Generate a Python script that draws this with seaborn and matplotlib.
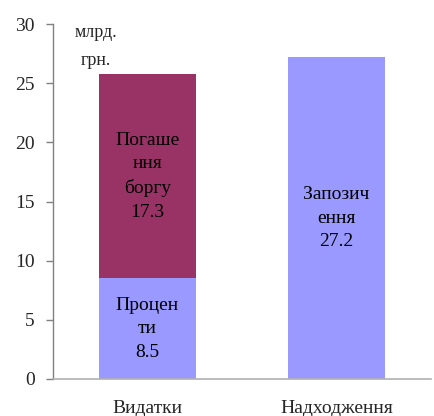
import matplotlib
matplotlib.use("Agg")
import pandas as pd
import seaborn as sns
from matplotlib import pyplot as plt

# Дані (млрд. грн.)
categories = ["Видатки", "Надходження"]
bottom_names = ["Проценти", "Запозичення"]
bottom_values = [8.5, 27.2]
top_names = ["Погашення боргу", ""]
top_values = [17.3, 0.0]
# як розбито підписи всередині стовпців
bottom_labels = ["Процен\nти", "Запозич\nення"]
top_labels = ["Погаше\nння\nборгу", ""]

LIGHT = "#9999FF"
DARK = "#993366"

sns.set_theme(style="white")
plt.rcParams["font.family"] = ["Liberation Serif", "DejaVu Serif"]

df = pd.DataFrame({
    "category": categories,
    "bottom": bottom_values,
    "top": top_values,
})
df["total"] = df["bottom"] + df["top"]

fig = plt.figure(figsize=(4.34, 4.16), dpi=100)
ax = fig.add_axes([0.122, 0.089, 0.871, 0.853])

# спочатку повна висота (верхній сегмент), потім нижній сегмент поверх
sns.barplot(data=df, x="category", y="total", color=DARK, width=0.51,
            saturation=1, linewidth=0, ax=ax)
sns.barplot(data=df, x="category", y="bottom", color=LIGHT, width=0.51,
            saturation=1, linewidth=0, ax=ax)

FS = 14
for i in df.index:
    b = df.loc[i, "bottom"]
    t = df.loc[i, "top"]
    ax.text(i, b / 2, f"{bottom_labels[i]}\n{b}", ha="center", va="center",
            fontsize=FS, linespacing=1.5, color="black")
    if t > 0:
        ax.text(i, b + t / 2, f"{top_labels[i]}\n{t}", ha="center",
                va="center", fontsize=FS, linespacing=1.5, color="black")

ax.text(0.113, 1.0, "млрд.\nгрн.", transform=ax.transAxes, ha="center",
        va="top", fontsize=13, linespacing=1.85)

ax.set_ylim(0, 30)
ax.set_xlim(-0.5, 1.5)
ax.set_yticks(range(0, 31, 5))
ax.set_xlabel("")
ax.set_ylabel("")
ax.tick_params(axis="y", left=True, length=5, width=1, color="#808080",
               labelsize=FS, pad=8)
ax.tick_params(axis="x", bottom=False, labelsize=FS, pad=9)

for s in ["top", "right"]:
    ax.spines[s].set_visible(False)
ax.spines["left"].set_color("#808080")
ax.spines["bottom"].set_color("#B0B0B0")
ax.spines["left"].set_linewidth(1)
ax.spines["bottom"].set_linewidth(1.2)

fig.savefig("out.png", dpi=100)
